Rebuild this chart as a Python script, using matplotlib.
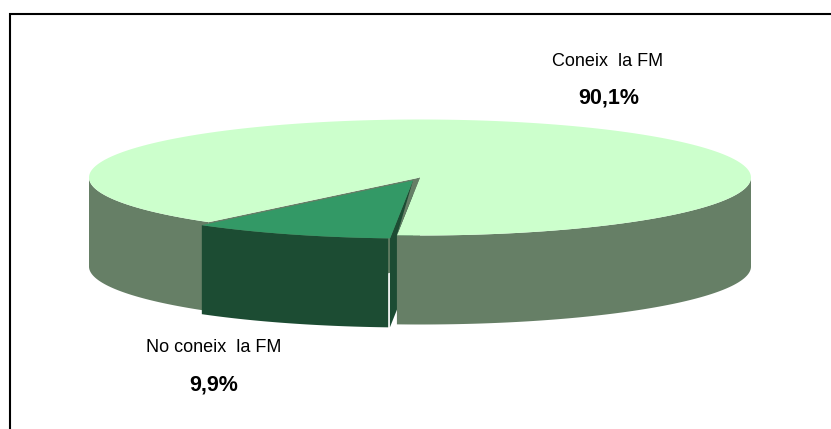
import matplotlib
matplotlib.use('Agg')
import matplotlib.pyplot as plt
import numpy as np

labels = ['Coneix  la FM', 'No coneix  la FM']
values = [90.1, 9.9]
value_labels = ['90,1%', '9,9%']

W, H = 831, 429
cx, cy = 420, 177.5    # centre of the pie top, pixels
rx, ry = 331, 58
depth = 89
shift = (-7, 3)        # how far the small slice is pulled out
start = 266            # angle where the small slice begins
gap = 0.3              # front of the small slice stops just short of its cut face

col_top = '#CCFFCC'
col_side = '#667F66'
col_slice = '#339966'
col_slice_side = '#1C4C33'


def arc(a, b, x0=cx, y0=cy):
    t = np.radians(np.linspace(a, b, 200))
    return x0 + rx * np.cos(t), y0 - ry * np.sin(t)


def band(a, b, x0=cx, y0=cy):
    # outer wall of the pie between two angles
    x, y = arc(a, b, x0, y0)
    return np.r_[x, x[::-1]], np.r_[y, y[::-1] + depth]


def wall(ang, x0=cx, y0=cy):
    # flat cut face from the centre to the rim
    x, y = arc(ang, ang, x0, y0)
    return [x0, x[0], x[0], x0], [y0, y[0], y[0] + depth, y0 + depth]


fig = plt.figure(figsize=(W / 100, H / 100), dpi=100)
ax = fig.add_axes([0, 0, 1, 1])
ax.set_xlim(0, W)
ax.set_ylim(H, 0)
ax.axis('off')

small = values[1] / sum(values) * 360
end = start - small
sx, sy = cx + shift[0], cy + shift[1]

# back part of the big slice, then the cut face of the small one
ax.fill(*band(180, end), color=col_side, lw=0)
ax.fill(*wall(end), color=col_side, lw=0)
ax.fill(*wall(start, sx, sy), color=col_slice_side, lw=0)

# big slice covers the cut face on the right
ax.fill(*band(start, 360), color=col_side, lw=0)
x, y = arc(start, end + 360)
ax.fill(np.r_[cx, x], np.r_[cy, y], color=col_top, lw=0)
rim_x, rim_y = arc(start, start)
ax.fill([cx, rim_x[0], sx], [cy, rim_y[0], sy], color=col_side, lw=0)

# small slice, pulled out
ax.fill(*band(end, start - gap, sx, sy), color=col_slice_side, lw=0)
x, y = arc(end, start - gap, sx, sy)
ax.fill(np.r_[sx, x, x[-1] + 2], np.r_[sy, y, y[-1]], color=col_slice, lw=0)

# frame, top and left only
ax.plot([10, 10, W], [H, 14, 14], color='black', lw=1.5, solid_joinstyle='miter')

font = 'Liberation Sans'
ax.text(607.5, 62, labels[0], ha='center', va='center', family=font, fontsize=13)
ax.text(609, 98, value_labels[0], ha='center', va='center', family=font, fontsize=15.5, weight='bold')
ax.text(214, 348, labels[1], ha='center', va='center', family=font, fontsize=13)
ax.text(214, 385, value_labels[1], ha='center', va='center', family=font, fontsize=15.5, weight='bold')

fig.savefig('out.png', dpi=100, facecolor='white')
